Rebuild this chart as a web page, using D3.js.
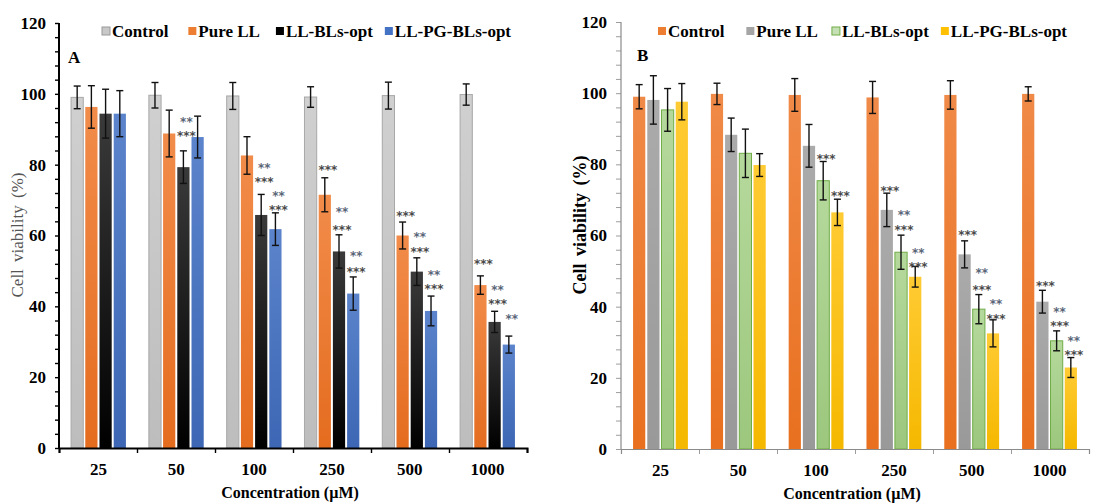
<!doctype html>
<html>
<head>
<meta charset="utf-8">
<style>
  body { margin: 0; background: #fff; }
  svg text { font-family: "Liberation Serif", "Times New Roman", serif; }
</style>
</head>
<body>
<div id="container"></div>

<script src="https://cdn.jsdelivr.net/npm/d3@7/dist/d3.min.js"></script>
<script type="text/javascript">

    var concentrations = ["25", "50", "100", "250", "500", "1000"];
    var yTicks = d3.range(0, 121, 4);

    // panel A
    var seriesA = ["Control", "Pure LL", "LL-BLs-opt", "LL-PG-BLs-opt"];
    var controlA = [99, 99.6, 99.4, 99.1, 99.5, 99.8];
    var controlErrA = [3.2, 3.6, 3.8, 2.9, 3.8, 3.0];
    var pureA = [96.3, 88.8, 82.6, 71.5, 60, 46];
    var pureErrA = [6, 6.6, 5.3, 4.8, 3.8, 2.6];
    var blsA = [94.4, 79.3, 65.8, 55.5, 49.8, 35.6];
    var blsErrA = [6.9, 4.6, 5.8, 4.7, 3.9, 3.0];
    var pgA = [94.4, 87.8, 61.8, 43.6, 38.7, 29.2];
    var pgErrA = [6.5, 5.9, 4.6, 4.7, 4.2, 2.4];
    // [concentration index, series index, value, stars]
    var starsA = [
        [1, 2, 93.0, "**"], [1, 2, 89.0, "***"],
        [2, 2, 80.0, "**"], [2, 2, 76.0, "***"],
        [2, 3, 72.0, "**"], [2, 3, 68.0, "***"],
        [3, 1, 79.4, "***"],
        [3, 2, 67.5, "**"], [3, 2, 62.4, "***"],
        [3, 3, 55.1, "**"], [3, 3, 50.6, "***"],
        [4, 1, 66.4, "***"],
        [4, 2, 60.3, "**"], [4, 2, 56.3, "***"],
        [4, 3, 49.8, "**"], [4, 3, 45.8, "***"],
        [5, 1, 52.8, "***"],
        [5, 2, 45.5, "**"], [5, 2, 41.5, "***"],
        [5, 3, 37.4, "**"]
    ];

    // panel B
    var seriesB = ["Control", "Pure LL", "LL-BLs-opt", "LL-PG-BLs-opt"];
    var controlB = [99.0, 99.8, 99.5, 98.8, 99.5, 99.8];
    var controlErrB = [3.4, 3.0, 4.6, 4.5, 4.0, 2.0];
    var pureB = [98.1, 88.3, 85.2, 67.2, 54.7, 41.4];
    var pureErrB = [6.8, 4.7, 6.0, 4.7, 3.8, 3.2];
    var blsB = [95.3, 83.1, 75.4, 55.3, 39.3, 30.4];
    var blsErrB = [6.0, 6.8, 5.4, 4.8, 4.1, 2.8];
    var pgB = [97.6, 79.8, 66.5, 48.4, 32.5, 22.9];
    var pgErrB = [5.1, 3.2, 3.7, 2.9, 3.8, 2.8];
    var starsB = [
        [2, 2, 82.3, "***"],
        [2, 3, 72.0, "***"],
        [3, 1, 73.4, "***"],
        [3, 2, 66.5, "**"], [3, 2, 62.5, "***"],
        [3, 3, 55.9, "**"], [3, 3, 51.9, "***"],
        [4, 1, 61.1, "***"],
        [4, 2, 50.3, "**"], [4, 2, 45.6, "***"],
        [4, 3, 41.5, "**"], [4, 3, 37.5, "***"],
        [5, 1, 46.6, "***"],
        [5, 2, 39.3, "**"], [5, 2, 35.3, "***"],
        [5, 3, 31.2, "**"], [5, 3, 27.2, "***"]
    ];

    var svg = d3.select("#container").append("svg")
        .attr("width", 1119)
        .attr("height", 503);

    var defs = svg.append("defs");

    function gradient(id, top, bottom) {
        var g = defs.append("linearGradient")
            .attr("id", id)
            .attr("x1", 0).attr("y1", 0).attr("x2", 0).attr("y2", 1);
        g.append("stop").attr("offset", "0%").attr("stop-color", top);
        g.append("stop").attr("offset", "100%").attr("stop-color", bottom);
        return "url(#" + id + ")";
    }

    var panelA = {
        x0: 59, x1: 527, yBottom: 448, yTop: 23,
        series: seriesA,
        values: [controlA, pureA, blsA, pgA],
        errors: [controlErrA, pureErrA, blsErrA, pgErrA],
        stars: starsA,
        fills: [gradient("ga0", "#d0d0d0", "#bdbdbd"), gradient("ga1", "#f28c4a", "#e46c1f"),
                gradient("ga2", "#3a3a3a", "#000000"), gradient("ga3", "#5b84cc", "#3d66b4")],
        strokes: ["#a8a8a8", "none", "none", "none"],
        legendFill: ["#c8c8c8", "#ed7d31", "#000000", "#4472c4"],
        legendStroke: ["#999", "none", "none", "none"],
        legendX: 102,
        legendGap: [20, 16, 12],
        letter: "A", letterX: 68, letterY: 63,
        axisColor: "#000", axisWidth: 2, yTickSize: 4,
        ylabelX: 17, ylabelY: 235, ylabelBold: false, ylabelColor: "#555", ylabelSize: 17
    };

    var panelB = {
        x0: 621, x1: 1089, yBottom: 449, yTop: 22,
        series: seriesB,
        values: [controlB, pureB, blsB, pgB],
        errors: [controlErrB, pureErrB, blsErrB, pgErrB],
        stars: starsB,
        fills: [gradient("gb0", "#f08a48", "#e8701f"), gradient("gb1", "#ababab", "#999999"),
                gradient("gb2", "#b5d99c", "#9cc77d"), gradient("gb3", "#ffcb33", "#f5b800")],
        strokes: ["none", "none", "#70ad47", "none"],
        legendFill: ["#ed7d31", "#a5a5a5", "#c5e0b4", "#ffc000"],
        legendStroke: ["none", "none", "#70ad47", "none"],
        legendX: 658,
        legendGap: [22, 14, 12],
        letter: "B", letterX: 637, letterY: 61,
        axisColor: "#8a8a8a", axisWidth: 1.2, yTickSize: 5,
        ylabelX: 580, ylabelY: 225, ylabelBold: true, ylabelColor: "#000", ylabelSize: 18
    };

    function drawPanel(p) {
        var g = svg.append("g");

        var y = d3.scaleLinear().domain([0, 120]).range([p.yBottom, p.yTop]);

        var xGroup = d3.scaleBand()
            .domain(concentrations)
            .range([p.x0, p.x1])
            .paddingInner(0.295)
            .paddingOuter(0.155);

        var xSeries = d3.scaleBand()
            .domain(d3.range(p.series.length))
            .range([0, xGroup.bandwidth()])
            .paddingInner(0.14);

        var xEdges = d3.scaleLinear().domain([0, concentrations.length]).range([p.x0, p.x1]);

        // bars
        var bars = [];
        p.values.forEach(function (vals, s) {
            vals.forEach(function (v, c) {
                bars.push({c: c, s: s, v: v, e: p.errors[s][c]});
            });
        });

        function barCenter(c, s) {
            return xGroup(concentrations[c]) + xSeries(s) + xSeries.bandwidth() / 2;
        }

        g.selectAll(".bar").data(bars).enter().append("rect")
            .attr("class", "bar")
            .attr("x", function (d) { return xGroup(concentrations[d.c]) + xSeries(d.s); })
            .attr("y", function (d) { return y(d.v); })
            .attr("width", xSeries.bandwidth())
            .attr("height", function (d) { return y(0) - y(d.v); })
            .attr("fill", function (d) { return p.fills[d.s]; })
            .attr("stroke", function (d) { return p.strokes[d.s]; })
            .attr("stroke-width", 1);

        // error bars
        var err = g.selectAll(".err").data(bars).enter().append("g").attr("class", "err")
            .attr("stroke", "#111").attr("stroke-width", 1.4);
        err.append("line")
            .attr("x1", function (d) { return barCenter(d.c, d.s); })
            .attr("x2", function (d) { return barCenter(d.c, d.s); })
            .attr("y1", function (d) { return y(d.v + d.e); })
            .attr("y2", function (d) { return y(d.v - d.e); });
        [1, -1].forEach(function (sign) {
            err.append("line")
                .attr("x1", function (d) { return barCenter(d.c, d.s) - 3.5; })
                .attr("x2", function (d) { return barCenter(d.c, d.s) + 3.5; })
                .attr("y1", function (d) { return y(d.v + sign * d.e); })
                .attr("y2", function (d) { return y(d.v + sign * d.e); });
        });

        // significance stars
        g.selectAll(".star").data(p.stars).enter().append("text")
            .attr("class", "star")
            .attr("x", function (d) { return barCenter(d[0], d[1]) + 3; })
            .attr("y", function (d) { return y(d[2]) + 7; })
            .attr("text-anchor", "middle")
            .style("font-family", "'DejaVu Sans', sans-serif")
            .style("font-size", "12px")
            .style("font-weight", "bold")
            .attr("fill", function (d) { return d[3] === "**" ? "#5a6678" : "#4a4a4a"; })
            .text(function (d) { return d[3]; });

        // y axis
        var yAxis = d3.axisLeft(y)
            .tickValues(yTicks)
            .tickSize(p.yTickSize)
            .tickPadding(9)
            .tickFormat(function (d) { return d % 20 === 0 ? d : ""; });
        var ya = g.append("g")
            .attr("transform", "translate(" + p.x0 + ",0)")
            .call(yAxis);
        ya.select(".domain").attr("stroke", p.axisColor).attr("stroke-width", p.axisWidth)
            .attr("d", "M0," + p.yBottom + "V" + p.yTop);
        ya.selectAll(".tick line").attr("stroke", p.axisColor).attr("stroke-width", p.axisWidth * 0.7);
        ya.selectAll(".tick text")
            .attr("fill", "#000")
            .style("font-family", "'Liberation Serif', serif")
            .style("font-size", "17px")
            .style("font-weight", "bold");

        // x axis: boundary ticks
        var xa = g.append("g")
            .attr("transform", "translate(0," + p.yBottom + ")")
            .call(d3.axisBottom(xEdges).tickValues(d3.range(0, concentrations.length + 1)).tickSize(5).tickFormat(""));
        xa.select(".domain").attr("stroke", p.axisColor).attr("stroke-width", p.axisWidth);
        xa.selectAll(".tick line").attr("stroke", p.axisColor).attr("stroke-width", p.axisWidth * 0.7);

        // x axis: labels
        var xl = g.append("g")
            .attr("transform", "translate(0," + p.yBottom + ")")
            .call(d3.axisBottom(xGroup).tickSize(0).tickPadding(15));
        xl.select(".domain").remove();
        xl.selectAll(".tick text")
            .attr("fill", "#000")
            .style("font-family", "'Liberation Serif', serif")
            .style("font-size", "17px")
            .style("font-weight", "bold");

        g.append("text")
            .attr("x", (p.x0 + p.x1) / 2 - 3)
            .attr("y", p.yBottom + 50)
            .attr("text-anchor", "middle")
            .style("font-size", "16px")
            .style("font-weight", "bold")
            .text("Concentration  (\u00b5M)");

        g.append("text")
            .attr("transform", "translate(" + p.ylabelX + "," + p.ylabelY + ") rotate(-90)")
            .attr("text-anchor", "middle")
            .attr("dy", "0.35em")
            .attr("fill", p.ylabelColor)
            .style("font-size", p.ylabelSize + "px")
            .style("font-weight", p.ylabelBold ? "bold" : "normal")
            .style("word-spacing", "3px")
            .text("Cell viability (%)");

        // panel letter
        g.append("text")
            .attr("x", p.letterX)
            .attr("y", p.letterY)
            .style("font-size", "17px")
            .style("font-weight", "bold")
            .text(p.letter);

        // legend
        var lx = p.legendX;
        p.series.forEach(function (name, i) {
            g.append("rect")
                .attr("x", lx)
                .attr("y", 27)
                .attr("width", 8)
                .attr("height", 8)
                .attr("fill", p.legendFill[i])
                .attr("stroke", p.legendStroke[i]);
            var t = g.append("text")
                .attr("x", lx + 10)
                .attr("y", 37)
                .style("font-size", "17px")
                .style("font-weight", "bold")
                .text(name);
            lx += 10 + t.node().getComputedTextLength() + (p.legendGap[i] || 0);
        });
    }

    drawPanel(panelA);
    drawPanel(panelB);

</script>
</body>
</html>
